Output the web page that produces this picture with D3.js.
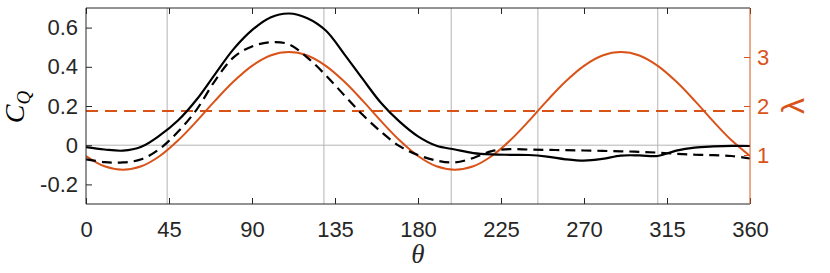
<!DOCTYPE html>
<html><head><meta charset="utf-8">
<script src="https://cdn.jsdelivr.net/npm/d3@7"></script>
<style>body{margin:0;background:#fff}svg{display:block}</style>
</head><body>
<svg id="c" width="830" height="273"></svg>
<script>
const theta = [0,10,20,30,40,50,60,70,80,90,100,110,120,130,140,150,160,170,180,190,200,210,220,230,240,250,260,270,280,290,300,310,320,330,340,350,360];
const cqSolid = [-0.010,-0.022,-0.028,-0.008,0.050,0.127,0.233,0.363,0.490,0.587,0.652,0.672,0.648,0.585,0.465,0.338,0.215,0.120,0.045,-0.003,-0.022,-0.040,-0.047,-0.049,-0.050,-0.058,-0.072,-0.079,-0.070,-0.053,-0.052,-0.055,-0.028,-0.012,-0.006,-0.003,-0.004];
const cqDashed = [-0.072,-0.086,-0.088,-0.072,-0.018,0.070,0.182,0.330,0.448,0.504,0.525,0.515,0.447,0.357,0.255,0.155,0.068,-0.005,-0.050,-0.078,-0.088,-0.065,-0.030,-0.020,-0.022,-0.024,-0.025,-0.027,-0.029,-0.031,-0.034,-0.038,-0.044,-0.048,-0.051,-0.055,-0.068];
const lambda = [0.98,0.77,0.70,0.77,0.98,1.30,1.69,2.11,2.50,2.82,3.03,3.10,3.03,2.82,2.50,2.11,1.69,1.30,0.98,0.77,0.70,0.77,0.98,1.30,1.69,2.11,2.50,2.82,3.03,3.10,3.03,2.82,2.50,2.11,1.69,1.30,0.98];
const lambdaMean = 1.9;
const markerAngles = [44, 129, 198, 245, 310];
const xTicks = [0,45,90,135,180,225,270,315,360];
const yTicks = [-0.2,0,0.2,0.4,0.6];
const lTicks = [1,2,3];

const L=86,R=750,T=8,B=204;
const orange="#D95319", axc="#262626";
const svg=d3.select("#c");
const x=d3.scaleLinear().domain([0,360]).range([L,R]);
const y=d3.scaleLinear().domain([-0.3,0.7]).range([B,T]);
const yl=d3.scaleLinear().domain([0,4]).range([B,T]);
const font="'Liberation Sans', Arial, Helvetica, sans-serif";
const serif="'Liberation Serif','Times New Roman',serif";

svg.append("g").selectAll("line").data(markerAngles).join("line")
  .attr("x1",d=>x(d)).attr("x2",d=>x(d)).attr("y1",T).attr("y2",B)
  .attr("stroke","#b4b4b4").attr("stroke-width",1);
svg.append("line").attr("x1",L).attr("x2",R).attr("y1",y(0)).attr("y2",y(0))
  .attr("stroke","#b4b4b4").attr("stroke-width",1);

svg.append("clipPath").attr("id","cp").append("rect").attr("x",L).attr("y",T).attr("width",R-L).attr("height",B-T);
const g=svg.append("g").attr("clip-path","url(#cp)");
const curve=d3.curveCatmullRom.alpha(0.5);
const mkLine=(ys,sc)=>d3.line().x((d,i)=>x(theta[i])).y((d,i)=>sc(ys[i])).curve(curve)(theta);

g.append("line").attr("x1",x(0)).attr("x2",x(360)).attr("y1",yl(lambdaMean)).attr("y2",yl(lambdaMean))
  .attr("stroke",orange).attr("stroke-width",2).attr("stroke-dasharray","12,7");
g.append("path").attr("d",mkLine(lambda,yl)).attr("fill","none").attr("stroke",orange).attr("stroke-width",2);
g.append("path").attr("d",mkLine(cqDashed,y)).attr("fill","none").attr("stroke","#000").attr("stroke-width",2.2).attr("stroke-dasharray","10,6");
g.append("path").attr("d",mkLine(cqSolid,y)).attr("fill","none").attr("stroke","#000").attr("stroke-width",2.2);

const axBottom=d3.axisBottom(x).tickValues(xTicks).tickSize(-6).tickPadding(17).tickFormat(d3.format("d"));
const gb=svg.append("g").attr("transform",`translate(0,${B})`).call(axBottom);
const axTop=d3.axisTop(x).tickValues(xTicks).tickSize(-6).tickFormat("");
const gt=svg.append("g").attr("transform",`translate(0,${T})`).call(axTop);
const axLeft=d3.axisLeft(y).tickValues(yTicks).tickSize(-6).tickPadding(8).tickFormat(d=>d===0?"0":d3.format(".1f")(d).replace("\u2212","-"));
const gl=svg.append("g").attr("transform",`translate(${L},0)`).call(axLeft);
const axRight=d3.axisRight(yl).tickValues(lTicks).tickSize(-6).tickPadding(7).tickFormat(d3.format("d"));
const gr=svg.append("g").attr("transform",`translate(${R},0)`).call(axRight);

[gb,gt,gl].forEach(a=>{a.selectAll("path,line").attr("stroke",axc);a.selectAll("text").attr("fill",axc);});
gr.selectAll("path,line").attr("stroke",orange);gr.selectAll("text").attr("fill",orange);
[gb,gt,gl,gr].forEach(a=>a.attr("font-size",22).attr("font-family",font));
gt.select(".domain").attr("d",`M${L},0H${R}`);
gb.select(".domain").attr("d",`M${L},0H${R}`);
gl.select(".domain").attr("d",`M0,${T}V${B}`);
gr.select(".domain").attr("d",`M0,${T}V${B}`);

const lab=svg.append("text").attr("transform",`translate(24,${(T+B)/2+1}) rotate(-90)`).attr("text-anchor","middle")
  .style("font-family",serif).style("font-style","italic").style("font-size","28px").attr("fill","#000");
lab.append("tspan").text("C");
lab.append("tspan").text("Q").style("font-size","19px").attr("dy","6");
svg.append("text").attr("x",(L+R)/2).attr("y",263).attr("text-anchor","middle")
  .style("font-family",serif).style("font-style","italic").style("font-size","27px").attr("fill",axc).text("θ");
svg.append("text").attr("transform",`translate(804,${(T+B)/2}) rotate(-90)`).attr("text-anchor","middle")
  .style("font-family",font).style("font-size","32px").attr("fill",orange).text("λ");
</script>
</body></html>
